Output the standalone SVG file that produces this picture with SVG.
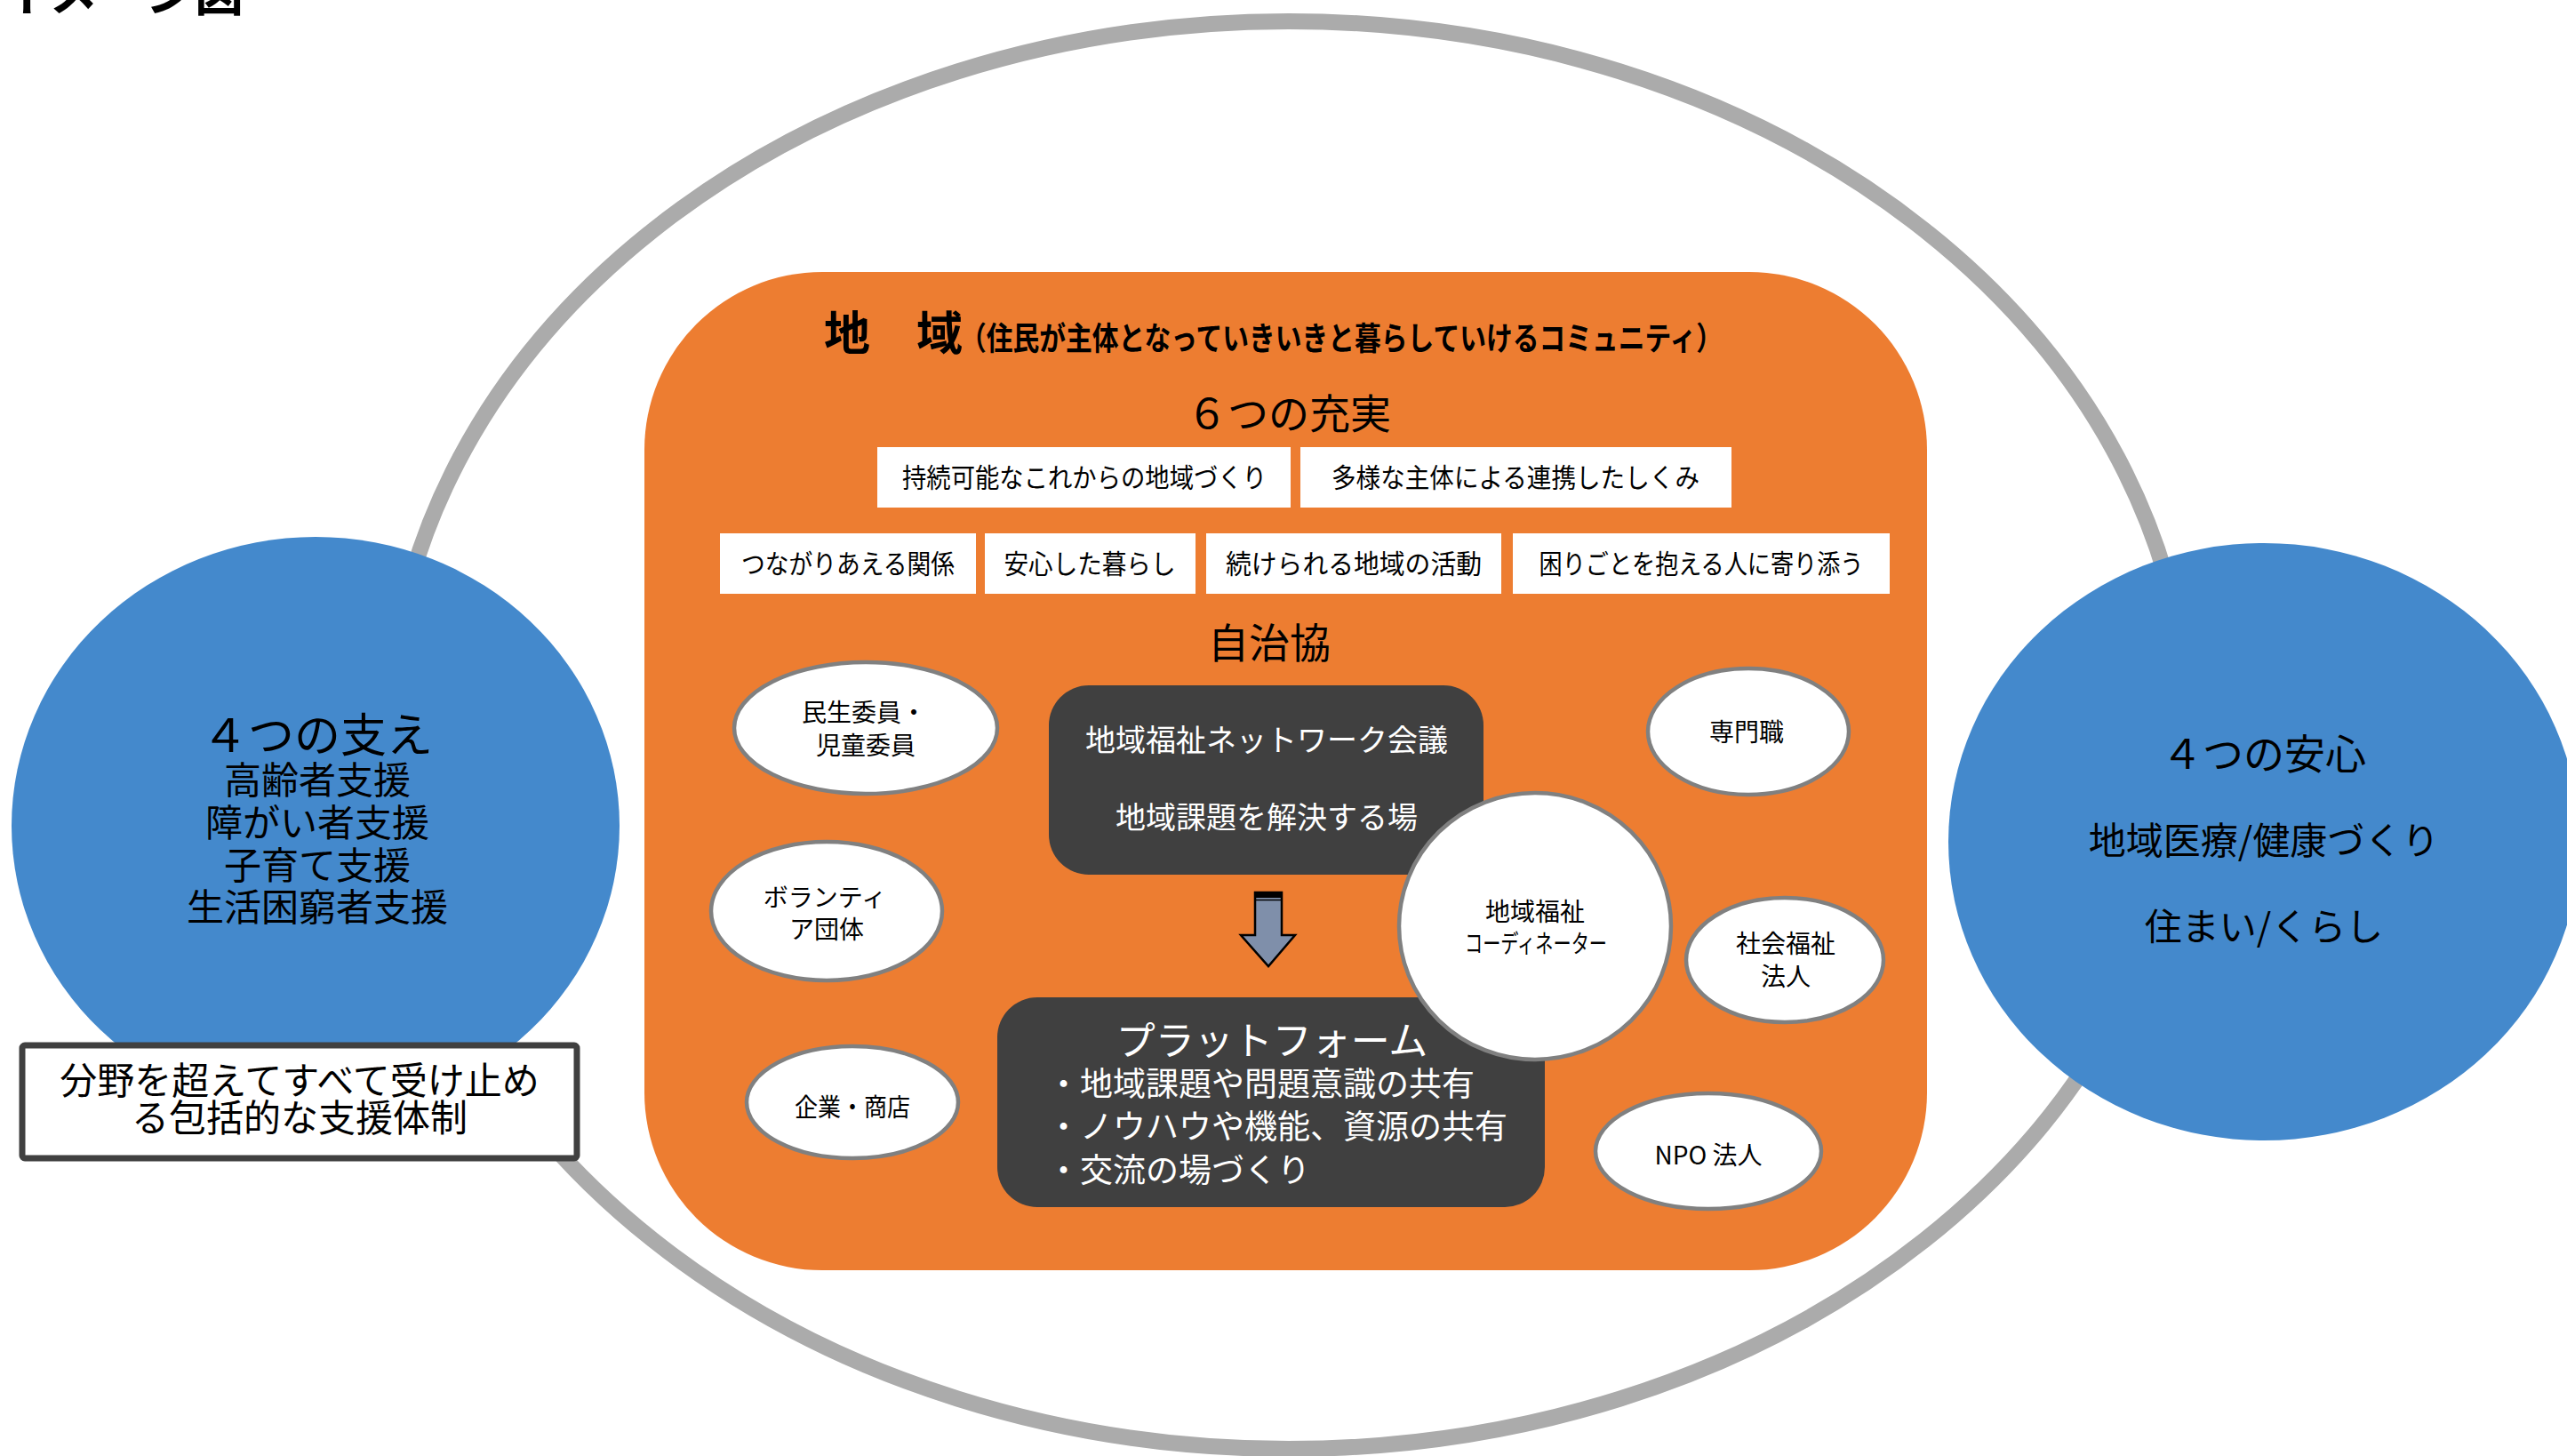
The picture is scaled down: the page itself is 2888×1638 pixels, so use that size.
<svg xmlns="http://www.w3.org/2000/svg" width="2888" height="1638" viewBox="0 0 2888 1638">
<style>
text{font-family:"Noto Sans CJK JP","Noto Sans",sans-serif;fill:#000}
.w{fill:#fff}
.mid{text-anchor:middle}
.box{fill:#fff}
.bub{fill:#fff;stroke:#808080;stroke-width:4.5}
.dark{fill:#404040}
.blue{fill:#4489cc}
.f28{font-size:28px}
.f30{font-size:30px}
.f42{font-size:42px}
</style>
<rect x="0" y="0" width="2888" height="1638" fill="#fff"/>
<text x="0" y="12" font-size="55" font-weight="bold">イメージ図</text>

<g id="outer-ring"><ellipse cx="1450" cy="827" rx="1012" ry="803" fill="none" stroke="#ababab" stroke-width="18"/></g>

<g id="support4">
<ellipse class="blue" cx="355" cy="929" rx="342" ry="325"/>
<text class="mid" x="357" y="846" font-size="52">４つの支え</text>
<text class="mid f42" x="357" y="893">高齢者支援</text>
<text class="mid f42" x="357" y="941">障がい者支援</text>
<text class="mid f42" x="357" y="989">子育て支援</text>
<text class="mid f42" x="357" y="1036">生活困窮者支援</text>
</g>

<g id="inclusive">
<rect x="25" y="1176" width="624" height="127" rx="3" fill="#fff" stroke="#404040" stroke-width="7"/>
<text class="mid f42" x="337" y="1231">分野を超えてすべて受け止め</text>
<text class="mid f42" x="337" y="1273">る包括的な支援体制</text>
</g>

<g id="anshin4">
<ellipse class="blue" cx="2547" cy="947" rx="355" ry="336"/>
<text class="mid" x="2547" y="865" font-size="46">４つの安心</text>
<text class="mid f42" x="2547" y="961">地域医療/健康づくり</text>
<text class="mid f42" x="2547" y="1058">住まい/くらし</text>
</g>

<g id="chiiki">
<rect x="725" y="306" width="1443" height="1123" rx="200" ry="200" fill="#ed7d31"/>
<text x="927" y="394" font-size="52" font-weight="bold">地　域</text>
<text x="1080" y="394" font-size="36" font-weight="bold" textLength="858" lengthAdjust="spacingAndGlyphs">（住民が主体となっていきいきと暮らしていけるコミュニティ）</text>
<text class="mid" x="1450" y="482" font-size="46">６つの充実</text>
<text class="mid" x="1428" y="740" font-size="46">自治協</text>
</g>

<g id="jujitsu">
<g id="j1"><rect class="box" x="987" y="503" width="465" height="68"/><text class="mid f30" x="1220" y="548" textLength="410" lengthAdjust="spacingAndGlyphs">持続可能なこれからの地域づくり</text></g>
<g id="j2"><rect class="box" x="1463" y="503" width="485" height="68"/><text class="mid f30" x="1705" y="548" textLength="414" lengthAdjust="spacingAndGlyphs">多様な主体による連携したしくみ</text></g>
<g id="j3"><rect class="box" x="810" y="600" width="288" height="68"/><text class="mid f30" x="954" y="645" textLength="240" lengthAdjust="spacingAndGlyphs">つながりあえる関係</text></g>
<g id="j4"><rect class="box" x="1108" y="600" width="237" height="68"/><text class="mid f30" x="1226" y="645" textLength="193" lengthAdjust="spacingAndGlyphs">安心した暮らし</text></g>
<g id="j5"><rect class="box" x="1357" y="600" width="332" height="68"/><text class="mid f30" x="1523" y="645" textLength="288" lengthAdjust="spacingAndGlyphs">続けられる地域の活動</text></g>
<g id="j6"><rect class="box" x="1702" y="600" width="424" height="68"/><text class="mid f30" x="1914" y="645" textLength="365" lengthAdjust="spacingAndGlyphs">困りごとを抱える人に寄り添う</text></g>
</g>

<g id="network">
<rect class="dark" x="1180" y="771" width="489" height="213" rx="45"/>
<text class="mid w" x="1425" y="845" font-size="34">地域福祉ネットワーク会議</text>
<text class="mid w" x="1425" y="932" font-size="34">地域課題を解決する場</text>
</g>

<g id="connectors">
<path d="M1412,1004 H1442 V1052 H1457 L1427,1087 L1396,1052 H1412 Z" fill="#7f8faa" stroke="#000" stroke-width="2.5" stroke-linejoin="miter"/>
<rect x="1412" y="1004" width="30" height="6" fill="#000"/>
<line x1="1412" y1="1012.5" x2="1442" y2="1012.5" stroke="#000" stroke-width="1.5"/>
</g>

<g id="platform">
<rect class="dark" x="1122" y="1122" width="616" height="236" rx="45"/>
<text class="mid w" x="1431" y="1187" font-size="44">プラットフォーム</text>
<text class="w" x="1178" y="1233" font-size="37">・地域課題や問題意識の共有</text>
<text class="w" x="1178" y="1281" font-size="37">・ノウハウや機能、資源の共有</text>
<text class="w" x="1178" y="1330" font-size="37">・交流の場づくり</text>
</g>

<g id="minsei"><ellipse class="bub" cx="974" cy="819" rx="148" ry="74"/>
<text class="mid f28" x="972" y="812">民生委員・</text><text class="mid f28" x="974" y="849">児童委員</text></g>
<g id="volunteer"><ellipse class="bub" cx="930" cy="1025" rx="130" ry="78"/>
<text class="mid f28" x="928" y="1020">ボランティ</text><text class="mid f28" x="930" y="1056">ア団体</text></g>
<g id="kigyo"><ellipse class="bub" cx="959" cy="1240" rx="119" ry="63"/>
<text class="mid f28" x="959" y="1256" textLength="130" lengthAdjust="spacingAndGlyphs">企業・商店</text></g>
<g id="senmon"><ellipse class="bub" cx="1967" cy="823" rx="113" ry="71"/>
<text class="mid f28" x="1965" y="834">専門職</text></g>
<g id="shafuku"><ellipse class="bub" cx="2008" cy="1080" rx="111" ry="70"/>
<text class="mid f28" x="2009" y="1072">社会福祉</text><text class="mid f28" x="2009" y="1109">法人</text></g>
<g id="npo"><ellipse class="bub" cx="1922" cy="1295" rx="127" ry="65"/>
<text class="mid f28" x="1922" y="1310">NPO 法人</text></g>
<g id="coordinator"><ellipse class="bub" cx="1727" cy="1042" rx="153" ry="150"/>
<text class="mid f28" x="1727" y="1036">地域福祉</text>
<text class="mid f28" x="1728" y="1072" textLength="160" lengthAdjust="spacingAndGlyphs">コーディネーター</text></g>
</svg>
